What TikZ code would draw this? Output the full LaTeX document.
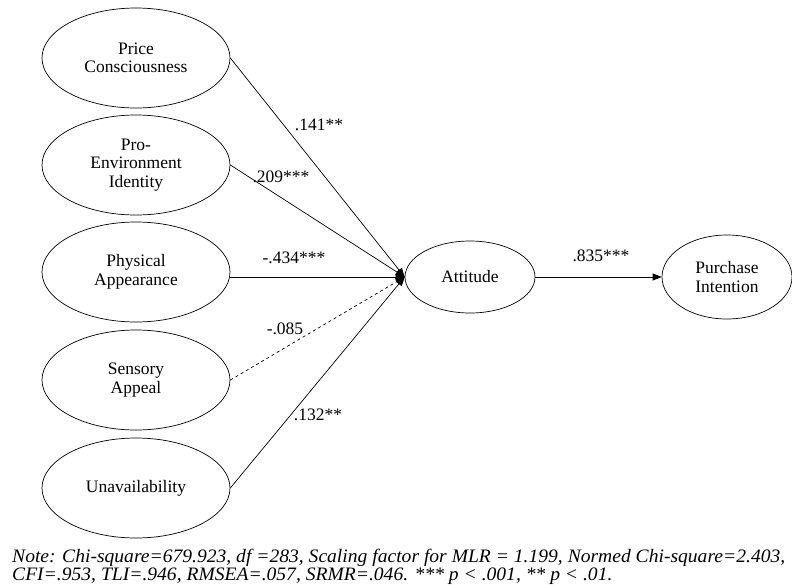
\documentclass[tikz,border=0pt]{standalone}
\usepackage{graphicx}
\usepackage{fontspec}
\setmainfont{Liberation Serif}
\usetikzlibrary{shapes.geometric,arrows.meta}

\begin{document}
\begin{tikzpicture}[x=1pt,y=-1pt,
  construct/.style={ellipse,draw,line width=0.7pt,align=center,inner sep=0pt,
    font=\fontsize{17.5}{18.5}\selectfont},
  outer/.style={construct,minimum width=188pt,minimum height=100pt},
  inner/.style={construct,minimum width=130pt,minimum height=72pt},
  path/.style={line width=0.7pt,-{Triangle[length=9pt,width=7pt]}},
  coef/.style={font=\fontsize{17.5}{19}\selectfont,inner sep=1pt}]
\useasboundingbox (0,0) rectangle (792,584);

% exogenous constructs
\node[outer] (price) at (136,58) {Price\\Consciousness};
\node[outer] (proenv) at (136,165) {Pro-\\Environment\\Identity};
\node[outer] (phys) at (136,272) {Physical\\Appearance};
\node[outer] (sens) at (136,380) {Sensory\\Appeal};
\node[outer] (unav) at (136,488) {Unavailability};

% endogenous constructs
\node[inner] (att) at (470,277) {Attitude};
\node[inner,minimum height=84pt] (pi) at (727,277) {Purchase\\Intention};

\draw[path] (price.east) -- (att.west);
\draw[path] (proenv.east) -- (att.west);
\draw[path] (phys.east|-att.west) -- (att.west);
\draw[path,dashed] (sens.east) -- (att.west);
\draw[path] (unav.east) -- (att.west);
\draw[path] (att.east) -- (pi.west);

\node[coef] (c1) at (319,125) {.141**};
\node[coef] (c2) at (281,177) {.209***};
\node[coef] (c3) at (294,258) {-.434***};
\node[coef] (c4) at (285,329) {-.085};
\node[coef] (c5) at (318,415) {.132**};
\node[coef] (c6) at (601,256) {.835***};

% note
\node[anchor=north west,inner sep=0pt] (note) at (12,549) {\resizebox{773pt}{\height}{\fontsize{19}{16}\selectfont\itshape
  \begin{tabular}{@{}l@{}}
  Note: Chi-square=679.923, df =283, Scaling factor for MLR = 1.199, Normed Chi-square=2.403,\\
  CFI=.953, TLI=.946, RMSEA=.057, SRMR=.046. *** p {\textless} .001, ** p {\textless} .01.
  \end{tabular}}};
\end{tikzpicture}
\end{document}
